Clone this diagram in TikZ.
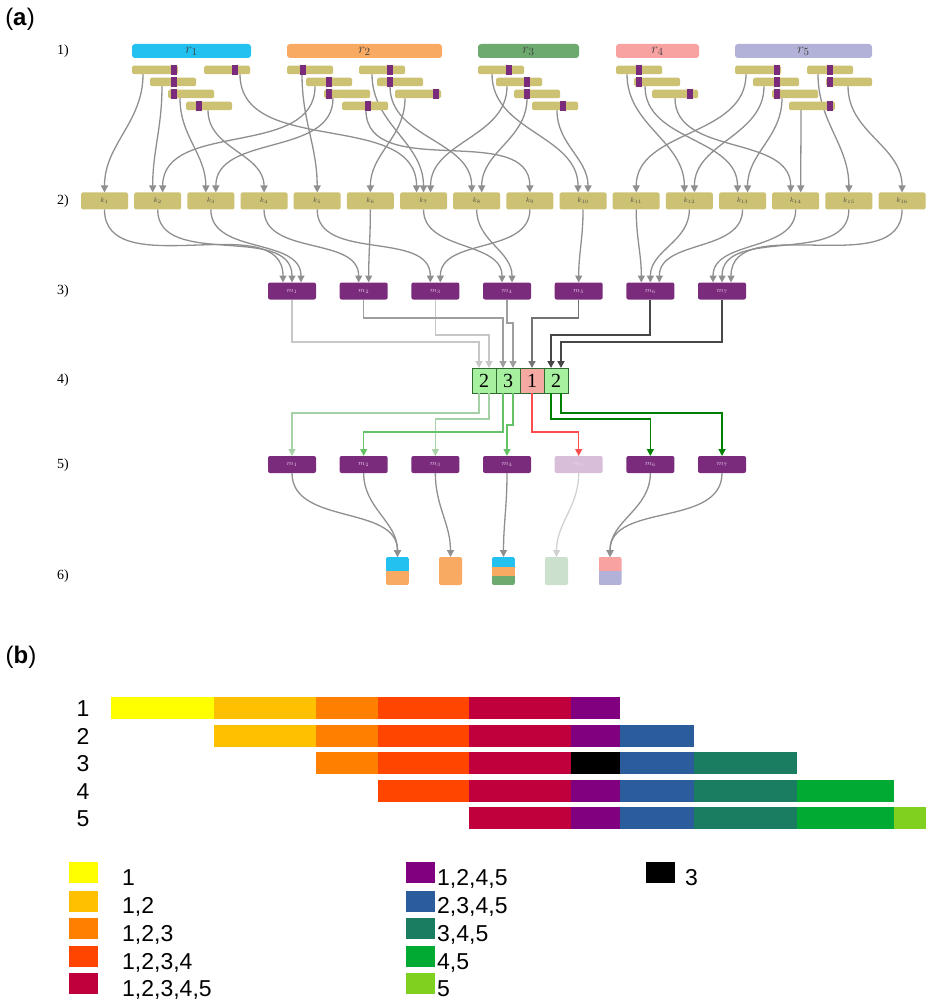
\documentclass[tikz,border=0pt]{standalone}
\usepackage{fontspec}
\setmainfont{Liberation Serif}
\setsansfont{Liberation Sans}
\usepackage{tikz}
\usetikzlibrary{positioning,arrows.meta}

\definecolor{readA}{HTML}{22C1EF}
\definecolor{readB}{HTML}{F9AA62}
\definecolor{readC}{HTML}{6DAA70}
\definecolor{readD}{HTML}{F8A2A2}
\definecolor{readE}{HTML}{B2B2D8}
\definecolor{kmerol}{HTML}{CDC273}
\definecolor{minpurp}{HTML}{7A2B7C}
\definecolor{minfade}{HTML}{D8BED8}
\definecolor{minlbl}{HTML}{E6C4E6}
\definecolor{cntgreen}{HTML}{A6F0A0}
\definecolor{cntred}{HTML}{F4A9A2}
\definecolor{cntline}{HTML}{2F6A32}
\definecolor{arrgray}{HTML}{8F8F8F}
\definecolor{set1}{HTML}{FFFF00}
\definecolor{set12}{HTML}{FFC000}
\definecolor{set123}{HTML}{FF8000}
\definecolor{set1234}{HTML}{FF4500}
\definecolor{set12345}{HTML}{C0003C}
\definecolor{set1245}{HTML}{800080}
\definecolor{set2345}{HTML}{2B5C9B}
\definecolor{set345}{HTML}{1A7D62}
\definecolor{set45}{HTML}{00AA33}
\definecolor{set5}{HTML}{80D020}

\pgfdeclarelayer{bg}
\pgfsetlayers{bg,main}

\begin{document}
\begin{tikzpicture}[x=1pt, y=-1pt, >={Triangle[width=7pt,length=7pt]},
    arr/.style={draw=arrgray, line width=1.3pt, ->},
    readbar/.style={rounded corners=3pt, minimum height=14pt, inner sep=0pt, outer sep=0pt, font=\fontsize{15}{15}\selectfont, text=black!75},
    kmer/.style={fill=kmerol, rounded corners=1.5pt, minimum width=46pt, minimum height=8.5pt, inner sep=0pt, outer sep=0pt},
    kbox/.style={fill=kmerol, rounded corners=1.5pt, minimum width=47pt, minimum height=17pt, inner sep=0pt, outer sep=0pt, font=\fontsize{7}{8}\selectfont, text=black!70},
    mbox/.style={fill=minpurp, rounded corners=2pt, minimum width=48pt, minimum height=17pt, inner sep=0pt, outer sep=0pt, font=\fontsize{7}{8}\selectfont, text=minlbl},
    mfade/.style={mbox, fill=minfade, text=minfade!50!white},
    cnt/.style={draw=cntline, line width=0.8pt, fill=cntgreen, minimum width=24pt, minimum height=25pt, inner sep=0pt, outer sep=0pt, font=\fontsize{20}{20}\selectfont},
    lg1/.style={draw=black!22, line width=1.2pt, ->},
    lg2/.style={draw=black!38, line width=1.3pt, ->},
    lg3/.style={draw=black!55, line width=1.4pt, ->},
    lg4/.style={draw=black!72, line width=1.8pt, ->},
    gr1/.style={draw=green!50!black!35, line width=1.2pt, ->},
    gr2/.style={draw=green!60!black!60, line width=1.3pt, ->},
    gr3/.style={draw=red!70!white, line width=1.4pt, ->},
    gr4/.style={draw=green!50!black, line width=1.6pt, ->},
    sqbox/.style={rounded corners=2pt, minimum width=23pt, minimum height=28pt, inner sep=0pt, outer sep=0pt},
    two/.style 2 args={path picture={
        \fill[#1, sharp corners] (path picture bounding box.north west) rectangle (path picture bounding box.east);
        \fill[#2, sharp corners] (path picture bounding box.west) rectangle (path picture bounding box.south east);}},
    three/.style n args={3}{path picture={
        \fill[#1, sharp corners] (path picture bounding box.north west) rectangle ([yshift=-9.5pt]path picture bounding box.north east);
        \fill[#2, sharp corners] ([yshift=-9.5pt]path picture bounding box.north west) rectangle ([yshift=9.5pt]path picture bounding box.south east);
        \fill[#3, sharp corners] ([yshift=9.5pt]path picture bounding box.south west) rectangle (path picture bounding box.south east);}},
    rowlbl/.style={font=\fontsize{14}{14}\selectfont},
    blbl/.style={font=\sffamily\fontsize{23}{23}\selectfont},
    leg/.style={minimum width=29pt, minimum height=21pt, inner sep=0pt, outer sep=0pt},
    legtxt/.style={anchor=base west, inner sep=0pt, font=\sffamily\fontsize{23}{23}\selectfont}]

\useasboundingbox (0,0) rectangle (930,1000);

% panel labels
\node[font=\sffamily\fontsize{24}{24}\selectfont] (pa) at (20,19) {(\textbf{a})};
\node[font=\sffamily\fontsize{24}{24}\selectfont] (pb) at (21,657) {(\textbf{b})};
\foreach \i/\y in {1/51,2/201,3/291,4/380.5,5/465,6/576}
    \node[rowlbl] (lvl\i) at (63,\y) {\i)};

% 1) reads and their k-mers
\node[readbar, fill=readA, minimum width=119pt] (r1) at (191.5,51) {$r_1$};
\node[readbar, fill=readB, minimum width=155pt] (r2) at (364.5,51) {$r_2$};
\node[readbar, fill=readC, minimum width=101pt] (r3) at (528.5,51) {$r_3$};
\node[readbar, fill=readD, minimum width=83pt] (r4) at (657.5,51) {$r_4$};
\node[readbar, fill=readE, minimum width=137pt] (r5) at (803.5,51) {$r_5$};

\foreach \nm/\x/\r/\mk in {ra1/132/1/171, ra2/204/1/232, ra3/150/2/171, ra4/168/3/171, ra5/186/4/196,
    rb1/287/1/300, rb2/359/1/387, rb3/306/2/326, rb4/377/2/387, rb5/324/3/326, rb6/395/3/433, rb7/342/4/365,
    rc1/478/1/506, rc2/496/2/524, rc3/514/3/524, rc4/532/4/560,
    rd1/616/1/636, rd2/634/2/636, rd3/652/3/687,
    re1/735/1/774, re2/807/1/827, re3/753/2/774, re4/826/2/827, re5/772/3/774, re6/789/4/827}
{
    \node[kmer] (\nm) at ({\x+23},{58+12*\r}) {};
    \fill[minpurp] (\mk,{53+12*\r}) rectangle ++(6,10);
}

% 2) k-mers
\foreach \i in {1,...,16}
    \node[kbox] (k\i) at ({104.5+53.17*(\i-1)},201) {$k_{\i}$};

% 3) minimizers
\foreach \i in {1,...,7}
    \node[mbox] (m\i) at ({292+71.67*(\i-1)},291) {$m_{\i}$};

% 4) counts
\node[cnt] (cn1) at (484,380.5) {2};
\node[cnt, right=0pt of cn1] (cn2) {3};
\node[cnt, fill=cntred, right=0pt of cn2] (cn3) {1};
\node[cnt, right=0pt of cn3] (cn4) {2};

% 5) minimizers kept
\foreach \i in {1,2,3,4,6,7}
    \node[mbox] (n\i) at ({292+71.67*(\i-1)},464.5) {$m_{\i}$};
\node[mfade] (n5) at (578.7,464.5) {$m_5$};

% 6) reads sorted
\node[sqbox, two={readA}{readB}] (s1) at (397.5,571) {};
\node[sqbox, fill=readB] (s2) at (450.5,571) {};
\node[sqbox, three={readA}{readB}{readC}] (s3) at (503.5,571) {};
\node[sqbox, fill=readC!35!white] (s4) at (556.5,571) {};
\node[sqbox, two={readD}{readE}] (s5) at (610,571) {};

\begin{pgfonlayer}{bg}
\foreach \nm/\dx/\t/\tx in {ra1/11/k1/0, ra2/36/k7/-7, ra3/12/k2/-5, ra4/12/k3/-5, ra5/22/k4/0,
    rb1/15/k5/0, rb2/13/k7/0, rb3/9/k2/5, rb4/13/k8/-5, rb5/9/k3/5, rb6/10/k6/0, rb7/24/k9/0,
    rc1/14/k10/-5, rc2/11/k7/7, rc3/13/k8/5, rc4/25/k10/5,
    rd1/11/k12/-5, rd2/11/k13/-5, rd3/23/k14/-5,
    re1/11/k11/0, re2/11/k15/0, re3/11/k12/5, re4/22/k16/0, re5/10/k13/5, re6/12/k14/5}
    \draw[arr] ([xshift=\dx]\nm.south west) to[out=-90,in=90] ([xshift=\tx]\t.north);
\end{pgfonlayer}

\foreach \s/\t/\tx in {k1/m1/-9, k2/m1/0, k3/m1/9, k4/m2/-5, k6/m2/5, k5/m3/-5, k9/m3/5,
    k7/m4/-5, k8/m4/5, k10/m5/0, k11/m6/-9, k12/m6/0, k13/m6/9, k14/m7/-9, k15/m7/0, k16/m7/9}
    \draw[arr] (\s.south) to[out=-90,in=90] ([xshift=\tx]\t.north);

\foreach \m/\dr/\b/\sh/\st in {m1/42.5/cn1/-5/lg1, m3/35.5/cn1/5/lg1, m2/18.5/cn2/-5/lg2, m4/23.5/cn2/5/lg2,
    m5/18.5/cn3/0/lg3, m6/35.5/cn4/-5/lg4, m7/42.5/cn4/5/lg4}
    \draw[\st] (\m.south) -- ++(0,\dr) -| ([xshift=\sh]\b.north);

\foreach \b/\sh/\dr/\n/\st in {cn1/-5/20/n1/gr1, cn1/5/26/n3/gr1, cn2/-5/39/n2/gr2, cn2/5/32/n4/gr2,
    cn3/0/39/n5/gr3, cn4/-5/26/n6/gr4, cn4/5/20/n7/gr4}
    \draw[\st] ([xshift=\sh]\b.south) -- ++(0,\dr) -| (\n.north);

\foreach \s/\t in {n1/s1, n2/s1, n3/s2, n4/s3, n6/s5, n7/s5}
    \draw[arr] (\s.south) to[out=-90,in=90] (\t.north);
\draw[arr, draw=black!18] (n5.south) to[out=-90,in=90] (s4.north);

% (b) bars
\foreach \i in {1,...,5}
    \node[blbl] (bl\i) at (83,{709+27.5*(\i-1)}) {\i};
\foreach \xa/\xb/\ra/\rb/\col in {111/213.5/1/1/set1, 213.5/316/1/2/set12, 316/378/1/3/set123,
    378/468.5/1/4/set1234, 468.5/571/1/5/set12345, 571/620/1/5/set1245, 620/694/2/5/set2345,
    694/796.5/3/5/set345, 796.5/894/4/5/set45, 894/926/5/5/set5}
    \foreach \r in {\ra,...,\rb}
        \fill[\col] (\xa,{697+27.5*(\r-1)}) rectangle (\xb,{719+27.5*(\r-1)});
\fill[black] (571,752) rectangle (620,774);

% legend
\foreach \nm/\col/\x/\y/\tx/\txt in {g1/set1/83.5/872.5/122/{1}, g2/set12/83.5/901/122/{1,2},
    g3/set123/83.5/928.5/122/{1,2,3}, g4/set1234/83.5/956.5/122/{1,2,3,4}, g5/set12345/83.5/983.5/122/{1,2,3,4,5},
    g6/set1245/420.5/872.5/437/{1,2,4,5}, g7/set2345/420.5/901/437/{2,3,4,5}, g8/set345/420.5/928.5/437/{3,4,5},
    g9/set45/420.5/956.5/437/{4,5}, g10/set5/420.5/983.5/437/{5}, g11/black/660/872.5/685/{3}}
{
    \node[leg, fill=\col] (\nm) at (\x,\y) {};
    \node[legtxt] (\nm t) at (\tx,{\y+12.5}) {\txt};
}
\end{tikzpicture}
\end{document}
